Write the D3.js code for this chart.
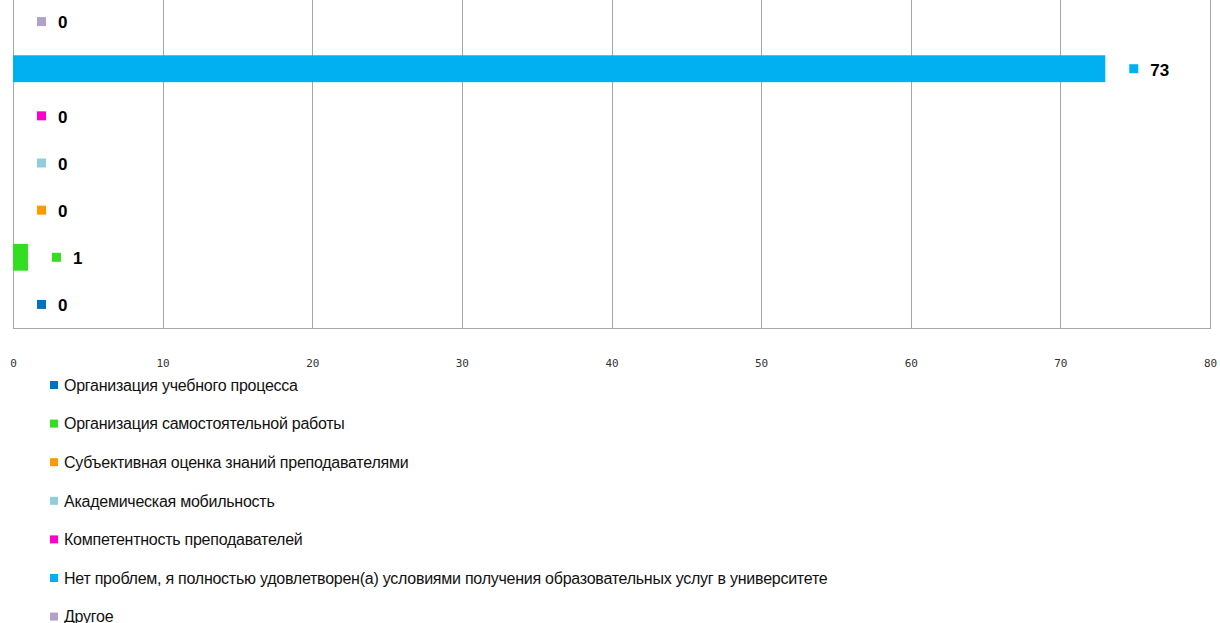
<!DOCTYPE html>
<head>
	<meta charset="utf-8" />
	<style>
		body { margin: 0; background: #fff; }
		.tick text { font-family: 'DejaVu Sans Mono', monospace; font-size: 11px; fill: #333; }
		.lbl { font: bold 17px 'Liberation Sans', Arial, sans-serif; fill: #000; }
		.leg { font-family: 'Liberation Sans Narrow', 'Liberation Sans', Arial, sans-serif; font-size: 16px; letter-spacing: -0.25px; fill: #111; }
	</style>
</head>
<body>
	<svg id="chart" width="1220" height="623"></svg>
	<script src="https://cdnjs.cloudflare.com/ajax/libs/d3/7.8.5/d3.min.js"></script>
	<script>
		// categories from bottom to top, same order as the legend
		var categories = [
			'Организация учебного процесса',
			'Организация самостоятельной работы',
			'Субъективная оценка знаний преподавателями',
			'Академическая мобильность',
			'Компетентность преподавателей',
			'Нет проблем, я полностью удовлетворен(а) условиями получения образовательных услуг в университете',
			'Другое'
		];
		var values = [0, 1, 0, 0, 0, 73, 0];
		var colors = ['#0070c0', '#33dd22', '#ff9900', '#92cddc', '#ff00cc', '#00b0f0', '#b2a1c7'];
		var xTicks = [0, 10, 20, 30, 40, 50, 60, 70, 80];

		var svg = d3.select('#chart');
		var mLeft = 13, mRight = 1210, mTop = -2, mBottom = 328;

		var x = d3.scaleLinear().domain([0, 80]).range([mLeft, mRight]);
		var y = d3.scaleBand().domain(categories).range([mBottom, mTop]).paddingInner(0.43).paddingOuter(0.215);

		// vertical grid
		svg.append('g')
			.selectAll('line')
			.data(xTicks)
			.join('line')
			.attr('x1', d => Math.round(x(d)) + 0.5)
			.attr('x2', d => Math.round(x(d)) + 0.5)
			.attr('y1', 0)
			.attr('y2', mBottom)
			.attr('stroke', '#a6a6a6');

		svg.append('line')
			.attr('x1', mLeft).attr('x2', mRight + 1)
			.attr('y1', mBottom + 0.5).attr('y2', mBottom + 0.5)
			.attr('stroke', '#a6a6a6');

		var axis = svg.append('g')
			.attr('transform', 'translate(0,' + (mBottom + 31) + ')')
			.call(d3.axisBottom(x).tickValues(xTicks).tickSize(0).tickPadding(0));
		axis.select('.domain').remove();

		// bars
		svg.append('g')
			.selectAll('rect')
			.data(categories)
			.join('rect')
			.attr('x', x(0))
			.attr('y', d => y(d))
			.attr('width', (d, i) => x(values[i]) - x(0))
			.attr('height', y.bandwidth())
			.attr('fill', (d, i) => colors[i]);

		// data labels with legend key
		var lab = svg.append('g')
			.selectAll('g')
			.data(categories)
			.join('g')
			.attr('transform', (d, i) => 'translate(' + (x(values[i]) + 24) + ',' + (y(d) + y.bandwidth() / 2) + ')');
		lab.append('rect')
			.attr('x', 0).attr('y', -4.5).attr('width', 9).attr('height', 9)
			.attr('fill', (d, i) => colors[i]);
		lab.append('text')
			.attr('class', 'lbl')
			.attr('x', 21)
			.attr('dy', '0.4em')
			.text((d, i) => values[i]);

		// legend
		var leg = svg.append('g')
			.selectAll('g')
			.data(categories)
			.join('g')
			.attr('transform', (d, i) => 'translate(50,' + (385 + i * 38.6) + ')');
		leg.append('rect')
			.attr('x', 0).attr('y', -4).attr('width', 8).attr('height', 8)
			.attr('fill', (d, i) => colors[i]);
		leg.append('text')
			.attr('class', 'leg')
			.attr('x', 14)
			.attr('dy', '0.36em')
			.text(d => d);
	</script>
</body>
